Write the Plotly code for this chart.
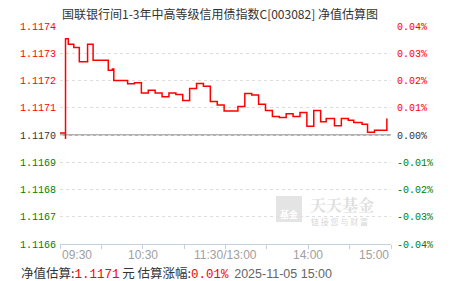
import plotly.graph_objects as go

# ---------------- data ----------------
times = ["09:30", "09:34", "09:34", "09:36", "09:40", "09:44", "09:50", "09:54",
         "10:05", "10:08", "10:09", "10:19", "10:24", "10:29", "10:34", "10:39",
         "10:44", "10:49", "10:54", "10:59", "11:04", "11:09", "11:14", "11:19",
         "11:24", "11:29", "13:09", "13:14", "13:19", "13:24", "13:29", "13:34",
         "13:39", "13:44", "13:49", "13:54", "13:59", "14:04", "14:09", "14:13",
         "14:19", "14:24", "14:29", "14:33", "14:39", "14:43", "14:48", "14:57"]
nav = [1.117007, 1.116985, 1.117353, 1.117333, 1.117321, 1.117269, 1.117333, 1.117274,
       1.117238, 1.117242, 1.117200, 1.117188, 1.117192, 1.117154, 1.117164, 1.117154,
       1.117140, 1.117154, 1.117149, 1.117127, 1.117171, 1.117189, 1.117179, 1.117123,
       1.117110, 1.117088, 1.117105, 1.117152, 1.117147, 1.117113, 1.117090, 1.117068,
       1.117064, 1.117078, 1.117068, 1.117083, 1.117032, 1.117090, 1.117049, 1.117061,
       1.117034, 1.117061, 1.117054, 1.117046, 1.117039, 1.117010, 1.117017, 1.117061]

base_nav = 1.1170
y_ticks = [1.1166, 1.1167, 1.1168, 1.1169, 1.1170, 1.1171, 1.1172, 1.1173, 1.1174]
y_labels = ["1.1166", "1.1167", "1.1168", "1.1169", "1.1170", "1.1171", "1.1172", "1.1173", "1.1174"]
pct_labels = ["-0.04%", "-0.03%", "-0.02%", "-0.01%", "0.00%", "0.01%", "0.02%", "0.03%", "0.04%"]
x_tick_times = ["09:30", "10:00", "10:30", "11:00", "11:30", "13:30", "14:00", "14:30", "15:00"]
x_label_times = ["09:30", "10:30", "11:30", "14:00", "15:00"]
x_label_text = ["09:30", "10:30", "11:30/13:00", "14:00", "15:00"]

title_text = "国联银行间1-3年中高等级信用债指数C[003082] 净值估算图"
est_nav = "1.1171"
est_pct = "0.01%"
stamp = "2025-11-05 15:00"


def tmin(t):
    h, m = map(int, t.split(":"))
    v = h * 60 + m
    if v >= 13 * 60:
        return v - 13 * 60 + 120
    return v - (9 * 60 + 30)


xs = [tmin(t) for t in times]

W, H = 451, 281
L, R, T, B = 60, 60, 26, 37
PW, PH = W - L - R, H - T - B


def px(x):
    return (x - L) / PW


def py(y):
    return (H - B - y) / PH


RED, GREEN, DARK = "#ff0000", "#008000", "#333333"
MONO = "Liberation Mono, DejaVu Sans Mono, monospace"
CJK = "Noto Sans CJK SC, sans-serif"


def col(v):
    if v > base_nav + 1e-9:
        return RED
    if v < base_nav - 1e-9:
        return GREEN
    return DARK


left_text = [f"<span style='color:{col(v)}'>{s}</span>" for v, s in zip(y_ticks, y_labels)]
right_text = [f"<span style='color:{col(v)}'>{s}</span>" for v, s in zip(y_ticks, pct_labels)]

fig = go.Figure()
fig.add_trace(go.Scatter(x=xs, y=nav, mode="lines", line=dict(color=RED, width=1.5, shape="hv"),
                         hoverinfo="skip", showlegend=False))
fig.add_trace(go.Scatter(x=xs, y=nav, mode="lines", line=dict(width=0), opacity=0,
                         yaxis="y2", hoverinfo="skip", showlegend=False))

fig.update_layout(
    width=W, height=H, margin=dict(l=L, r=R, t=T, b=B, pad=0),
    paper_bgcolor="white", plot_bgcolor="white",
    xaxis=dict(range=[0, 240], tickvals=[tmin(t) for t in x_tick_times],
               ticktext=[""] * len(x_tick_times), showgrid=False, zeroline=False,
               showline=True, linecolor="#c4d2de", linewidth=1, ticks="outside",
               ticklen=4, tickcolor="#c4d2de", fixedrange=True),
    yaxis=dict(range=[y_ticks[0], y_ticks[-1]], tickvals=y_ticks, ticktext=left_text,
               showgrid=True, gridcolor="#dddddd", griddash="dot", gridwidth=1,
               zeroline=False, showline=False, ticks="",
               tickfont=dict(family=MONO, size=10), ticklabelstandoff=3),
    yaxis2=dict(range=[y_ticks[0], y_ticks[-1]], tickvals=y_ticks, ticktext=right_text,
                overlaying="y", side="right", showgrid=False, zeroline=False,
                showline=False, ticks="", tickfont=dict(family=MONO, size=10),
                ticklabelstandoff=5),
    showlegend=False,
)

# baseline (previous NAV)
fig.add_shape(type="line", xref="x", yref="y", x0=0, x1=240, y0=base_nav, y1=base_nav,
              line=dict(color="#999999", width=1.5), layer="below")

# x labels
anchors = ["left", "center", "center", "center", "right"]
for t, s, a in zip(x_label_times, x_label_text, anchors):
    fig.add_annotation(x=tmin(t), y=py(255), xref="x", yref="paper", text=s, showarrow=False,
                       xanchor=a, yanchor="middle",
                       font=dict(family="Liberation Sans, Arial, sans-serif", size=12, color="#a0a0a0"))

# title
fig.add_annotation(x=px(220), y=py(13), xref="paper", yref="paper", text=title_text,
                   showarrow=False, xanchor="center", yanchor="middle",
                   font=dict(family=CJK, size=12, color=DARK))

# bottom info line
info = (f"净值估算:<span style='color:{RED};font-family:{MONO}'>{est_nav}</span> 元 "
        f"估算涨幅:<span style='color:{RED};font-family:{MONO}'>{est_pct}</span>  "
        f"<span style='color:#666666;font-family:Liberation Sans, Arial'>{stamp}</span>")
fig.add_annotation(x=px(19), y=py(272), xref="paper", yref="paper", text=info,
                   showarrow=False, xanchor="left", yanchor="middle",
                   font=dict(family=CJK, size=12.5, color=DARK))

# watermark
x0, x1, y0, y1 = px(276), px(302), py(196), py(222)
fig.add_shape(type="rect", xref="paper", yref="paper", x0=x0, x1=x1, y0=y1, y1=y0,
              fillcolor="#e4e4e4", line=dict(width=0), layer="below")
fig.add_annotation(x=px(289), y=py(214), xref="paper", yref="paper", text="<b>基金</b>",
                   showarrow=False, xanchor="center", yanchor="middle",
                   font=dict(family=CJK, size=9, color="white"))
fig.add_annotation(x=px(342), y=py(204), xref="paper", yref="paper", text="<b>天天基金</b>",
                   showarrow=False, xanchor="center", yanchor="middle", borderpad=0,
                   font=dict(family="Noto Serif CJK SC, " + CJK, size=16, color="#dedede"))
fig.add_annotation(x=px(339), y=py(221), xref="paper", yref="paper",
                   text="链 接 您 与 财 富", showarrow=False, xanchor="center", yanchor="middle",
                   borderpad=0, font=dict(family=CJK, size=8, color="#d8d8d8"))

fig.write_html("out.html")
